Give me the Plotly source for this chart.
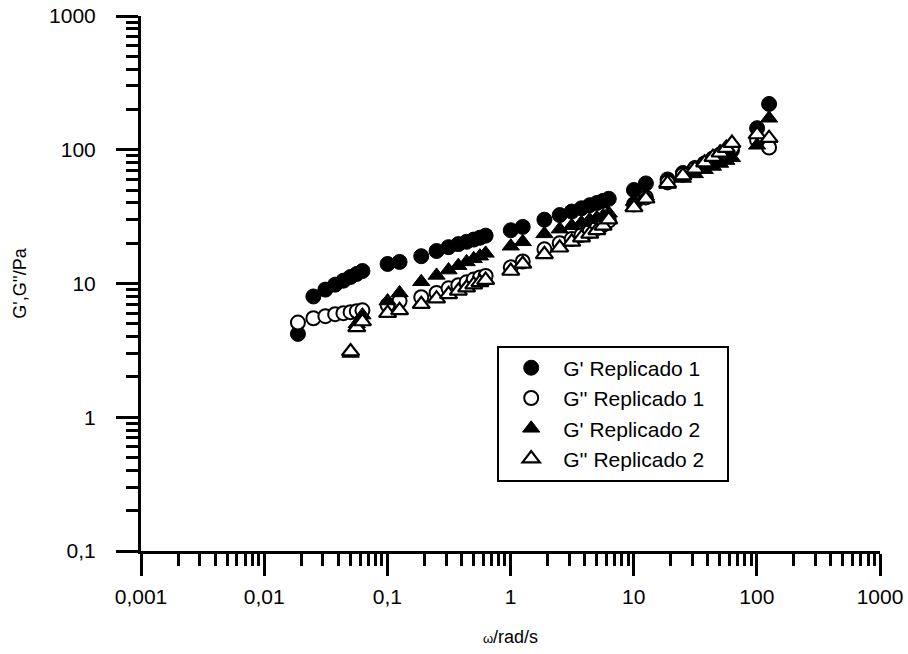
import plotly.graph_objects as go

# Angular frequency (rad/s)
w_low = [0.0188, 0.0251, 0.0314, 0.0377, 0.0440, 0.0503, 0.0565, 0.0628]
w_b = [0.1005, 0.1257]
w_mid = [0.1885, 0.251, 0.314, 0.377, 0.440, 0.503, 0.565, 0.628]
w_c = [1.005, 1.257]
w_hi = [1.885, 2.51, 3.14, 3.77, 4.40, 5.03, 5.65, 6.28]
w_d = [10.05, 12.57]
w_top = [18.85, 25.1, 31.4, 37.7, 44.0, 50.3, 56.5, 62.8]
w_e = [100.5, 125.7]

w_rep1 = w_low + w_b + w_mid + w_c + w_hi + w_d + w_top + w_e
w_rep2 = w_low[5:] + w_b + w_mid + w_c + w_hi + w_d + w_top + w_e

# G' Replicado 1 (Pa)
g1_storage = [4.2, 8.0, 9.0, 9.8, 10.5, 11.2, 11.8, 12.4,
              14.0, 14.5,
              16.0, 17.5, 18.7, 19.7, 20.5, 21.3, 22.0, 22.8,
              25.0, 26.5,
              30.0, 32.5, 34.5, 36.5, 38.5, 40.0, 41.5, 43.0,
              50.0, 56.0,
              60.0, 67.0, 73.0, 79.0, 84.0, 89.0, 94.0, 99.0,
              145.0, 220.0]
# G'' Replicado 1 (Pa)
g1_loss = [5.1, 5.5, 5.7, 5.9, 6.0, 6.1, 6.2, 6.3,
           6.9, 7.4,
           7.9, 8.5, 9.2, 9.7, 10.2, 10.7, 11.1, 11.4,
           13.2, 14.6,
           18.0, 20.0, 21.5, 23.0, 24.5, 26.0, 27.5, 29.5,
           39.0, 44.0,
           57.0, 65.0, 72.0, 79.0, 86.0, 92.0, 98.0, 104.0,
           118.0, 104.0]
# G' Replicado 2 (Pa)
g2_storage = [3.0, 5.0, 5.8,
              7.4, 8.5,
              10.3, 11.5, 12.6, 13.6, 14.5, 15.3, 16.0, 16.8,
              19.0, 20.5,
              23.5, 25.5, 27.0, 28.5, 30.0, 31.0, 32.0, 33.5,
              41.0, 45.0,
              55.0, 61.0, 66.0, 71.0, 75.0, 79.0, 83.0, 87.0,
              108.0, 172.0]
# G'' Replicado 2 (Pa)
g2_loss = [3.1, 4.7, 5.2,
           6.0, 6.3,
           7.0, 7.7, 8.3, 8.8, 9.3, 9.8, 10.2, 10.6,
           12.4, 14.0,
           16.5, 18.5, 20.5, 22.0, 23.5, 25.0, 27.0, 30.0,
           37.0, 43.0,
           56.0, 64.0, 72.0, 80.0, 88.0, 95.0, 103.0, 112.0,
           130.0, 122.0]

x_tickvals = [0.001, 0.01, 0.1, 1, 10, 100, 1000]
x_ticktext = ["0,001", "0,01", "0,1", "1", "10", "100", "1000"]
y_tickvals = [0.1, 1, 10, 100, 1000]
y_ticktext = ["0,1", "1", "10", "100", "1000"]

minor_x = [k * 10.0 ** e for e in range(-3, 3) for k in range(2, 10)]
minor_y = [k * 10.0 ** e for e in range(-1, 3) for k in range(2, 10)]

FONT = "Liberation Sans, Arial, sans-serif"
PAD = "\u00a0\u00a0\u00a0"

fig = go.Figure()
fig.add_trace(go.Scatter(x=w_rep1, y=g1_storage, mode="markers", name="G' Replicado 1" + PAD,
                         marker=dict(symbol="circle", size=15, color="black",
                                     line=dict(color="black", width=1))))
fig.add_trace(go.Scatter(x=w_rep1, y=g1_loss, mode="markers", name="G'' Replicado 1" + PAD,
                         marker=dict(symbol="circle", size=14, color="white",
                                     line=dict(color="black", width=2))))
fig.add_trace(go.Scatter(x=w_rep2, y=g2_storage, mode="markers", name="G' Replicado 2" + PAD,
                         marker=dict(symbol="triangle-up", size=15, color="black",
                                     line=dict(color="black", width=1))))
fig.add_trace(go.Scatter(x=w_rep2, y=g2_loss, mode="markers", name="G'' Replicado 2" + PAD,
                         marker=dict(symbol="triangle-up", size=15, color="white",
                                     line=dict(color="black", width=2.2))))

axis_common = dict(
    type="log", showgrid=False, zeroline=False, showline=True, automargin=False,
    linecolor="black", linewidth=3, ticks="outside", ticklen=22, tickwidth=2.5,
    tickcolor="black", tickfont=dict(family=FONT, size=21, color="black"),
)

fig.update_xaxes(
    **axis_common,
    range=[-3, 3], tickvals=x_tickvals, ticktext=x_ticktext,
    minor=dict(tickvals=minor_x, ticks="outside", ticklen=12, tickwidth=2.5,
               tickcolor="black", showgrid=False),
    title=dict(text="<span style='font-size:13px'>ω</span>/rad/s",
               font=dict(family=FONT, size=18, color="black"), standoff=24),
    ticklabelstandoff=3,
)
fig.update_yaxes(
    **axis_common,
    range=[-1, 3], tickvals=y_tickvals, ticktext=y_ticktext,
    minor=dict(tickvals=minor_y, ticks="outside", ticklen=12, tickwidth=2.5,
               tickcolor="black", showgrid=False),
    title=dict(text="G',G''/Pa", font=dict(family=FONT, size=18, color="black"),
               standoff=18),
    ticklabelstandoff=16,
)

fig.update_layout(
    width=908, height=654,
    margin=dict(l=141, r=28, t=16, b=103),
    paper_bgcolor="white", plot_bgcolor="white",
    showlegend=True,
    legend=dict(
        x=0.482, y=0.384, xanchor="left", yanchor="top",
        bordercolor="black", borderwidth=2, bgcolor="white",
        font=dict(family=FONT, size=21, color="black"),
        itemwidth=54,
    ),
)

fig.write_html("out.html")
